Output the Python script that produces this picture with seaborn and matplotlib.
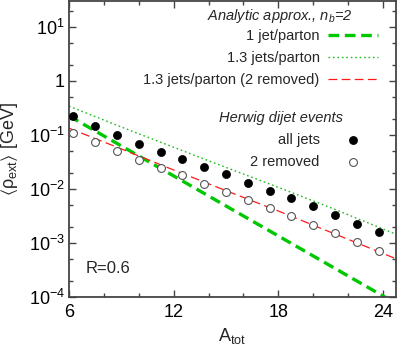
import seaborn as sns
import matplotlib.pyplot as plt
from matplotlib.ticker import FixedLocator, FixedFormatter, MultipleLocator, NullFormatter

# Herwig dijet events
a_tot_points = [6.25, 7.5, 8.75, 10.0, 11.25, 12.5, 13.75, 15.0,
                16.25, 17.5, 18.75, 20.0, 21.25, 22.5, 23.75]
all_jets = [0.22, 0.143, 0.099, 0.068, 0.048, 0.0354, 0.0258, 0.0187,
            0.0130, 0.00927, 0.0067, 0.00475, 0.00328, 0.00226, 0.00157]
two_removed = [0.110, 0.074, 0.0505, 0.0348, 0.0247, 0.0183, 0.0125, 0.00875,
               0.0063, 0.00443, 0.00314, 0.00217, 0.0015, 0.00104, 0.000713]

# analytic approx., n_b=2
a_tot_curve = [6, 9, 12, 15, 18, 21, 24.75]
one_jet = [0.224, 0.0624, 0.0174, 0.00484, 0.00135, 0.000376, 0.000076]
jets_13 = [0.34, 0.14, 0.059, 0.025, 0.0107, 0.0045, 0.00145]
jets_13_removed = [0.133, 0.055, 0.0224, 0.0093, 0.0039, 0.00158, 0.00051]

curve_labels = ["1 jet/parton", "1.3 jets/parton", "1.3 jets/parton (2 removed)"]
point_labels = ["all jets", "2 removed"]

y_ticks = [1e-4, 1e-3, 1e-2, 1e-1, 1, 10]
y_tick_labels = ["10$^{-4}$", "10$^{-3}$", "10$^{-2}$", "10$^{-1}$", "1", "10$^{1}$"]
x_ticks = [6, 12, 18, 24]

sns.set_theme(style="ticks")
plt.rcParams['font.family'] = ['Liberation Sans', 'DejaVu Sans']
plt.rcParams['mathtext.fontset'] = 'custom'
plt.rcParams['mathtext.rm'] = 'Liberation Sans'
plt.rcParams['mathtext.it'] = 'Liberation Sans:italic'
plt.rcParams['mathtext.fallback'] = 'stixsans'

fig = plt.figure(figsize=(3.99, 3.49), dpi=100)
ax = fig.add_axes([69 / 399, 1 - 297 / 349, 327 / 399, 296 / 349])

green = '#00c800'
red = '#ff1a1a'
grey = '#444444'

sns.lineplot(x=a_tot_curve, y=one_jet, ax=ax, color=green, lw=2.4,
             linestyle=(0, (3.2, 1.7)))
sns.lineplot(x=a_tot_curve, y=jets_13, ax=ax, color='#22bb22', lw=1.0,
             linestyle=(0, (1.2, 2.0)))
sns.lineplot(x=a_tot_curve, y=jets_13_removed, ax=ax, color=red, lw=0.9,
             linestyle=(0, (7, 3.5)))
curve_handles = list(ax.lines[:3])

sns.scatterplot(x=a_tot_points, y=all_jets, ax=ax, color='black', s=34,
                edgecolor='black', linewidth=0.5, zorder=3)
sns.scatterplot(x=a_tot_points, y=two_removed, ax=ax, facecolor='white', s=32,
                edgecolor='#555555', linewidth=0.8, zorder=3)
point_handles = list(ax.collections[-2:])

ax.set_yscale('log')
ax.set_xlim(6, 24.75)
ax.set_ylim(1e-4, 30)

ax.xaxis.set_major_locator(FixedLocator(x_ticks))
ax.xaxis.set_minor_locator(MultipleLocator(2))
ax.yaxis.set_major_locator(FixedLocator(y_ticks))
ax.yaxis.set_major_formatter(FixedFormatter(y_tick_labels))
minor_y = [m * 10.0 ** e for e in range(-4, 2) for m in (2, 5)]
ax.yaxis.set_minor_locator(FixedLocator(minor_y))
ax.yaxis.set_minor_formatter(NullFormatter())

ax.tick_params(which='both', direction='in', top=True, right=True,
               color=grey, width=1.0, labelsize=13, labelcolor='black')
ax.tick_params(which='major', length=5)
ax.tick_params(which='minor', length=3)
ax.tick_params(axis='x', pad=5)
ax.tick_params(axis='y', pad=3)
for spine in ax.spines.values():
    spine.set_color(grey)
    spine.set_linewidth(1.3)

ax.set_xlabel("A$_{\\rm tot}$", fontsize=13, labelpad=4)
ax.set_ylabel("$\\langle\\mathrm{\u03c1}_{\\rm ext}\\rangle$ [GeV]", fontsize=13, labelpad=6)

leg1 = ax.legend(handles=curve_handles, labels=curve_labels, loc='upper right',
                 bbox_to_anchor=(0.945, 0.905), markerfirst=False, frameon=False,
                 fontsize=10.5, handlelength=3.4, handletextpad=0.6,
                 labelspacing=0.55, borderpad=0, borderaxespad=0)
ax.add_artist(leg1)
ax.legend(handles=point_handles, labels=point_labels, loc='upper right',
          bbox_to_anchor=(0.945, 0.555), markerfirst=False, frameon=False,
          fontsize=10.5, handlelength=3.4, handletextpad=0.6,
          labelspacing=0.55, borderpad=0, borderaxespad=0)

ax.text(0.868, 0.949, "Analytic approx., n$_b$=2", transform=ax.transAxes,
        ha='right', va='center', fontsize=10.5, style='italic')
ax.text(0.838, 0.605, "Herwig dijet events", transform=ax.transAxes,
        ha='right', va='center', fontsize=10.5, style='italic')
ax.text(0.052, 0.095, "R=0.6", transform=ax.transAxes,
        ha='left', va='center', fontsize=12)

fig.savefig("out.png", dpi=100)
